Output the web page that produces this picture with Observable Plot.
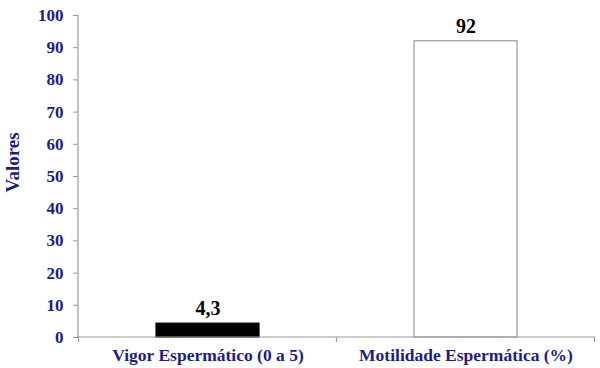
<!DOCTYPE html>
<html><head><meta charset="utf-8">
<script src="https://cdn.jsdelivr.net/npm/d3@7"></script>
<script src="https://cdn.jsdelivr.net/npm/@observablehq/plot@0.6"></script>
<style>body{margin:0;background:#fff}</style>
</head><body><div id="chart"></div>
<script>
const categories = ["Vigor Espermático (0 a 5)", "Motilidade Espermática (%)"];
const values = [4.3, 92];
const valueLabels = ["4,3", "92"];
const yTicks = [0, 10, 20, 30, 40, 50, 60, 70, 80, 90, 100];

const data = categories.map((c, i) => ({cat: c, v: values[i], label: valueLabels[i]}));
const blue = "#1c1c8e";
const gray = "#9a9a9a";

const axes = (index, scales, values, dims) => {
  const g = d3.create("svg:g").attr("stroke", gray).attr("stroke-width", 1.2).attr("fill", "none");
  const x = scales.x, y = scales.y;
  const y0 = y(0), y1 = y(100);
  const left = dims.marginLeft, right = dims.width - dims.marginRight;
  g.append("line").attr("x1", left).attr("x2", left).attr("y1", y0).attr("y2", y1);
  g.append("line").attr("x1", left).attr("x2", right).attr("y1", y0).attr("y2", y0);
  const gap = (x.step() - x.bandwidth()) / 2;
  const bounds = [x(categories[0]) - gap, ...categories.map(c => x(c) + x.bandwidth() + gap)];
  bounds.forEach(b => g.append("line").attr("x1", b).attr("x2", b).attr("y1", y0).attr("y2", y0 + 5));
  return g.node();
};

const chart = Plot.plot({
  width: 600,
  height: 368,
  marginLeft: 78,
  marginRight: 5,
  marginTop: 15,
  marginBottom: 31,
  style: {fontFamily: "Liberation Serif", background: "#fff"},
  x: {domain: categories, paddingInner: 0.6, paddingOuter: 0.3, axis: null},
  y: {domain: [0, 100], axis: null},
  marks: [
    Plot.barY(data, {x: "cat", y: "v", fill: d => d.cat === categories[0] ? "black" : "white",
      stroke: d => d.cat === categories[0] ? "black" : gray, strokeWidth: 1.2}),
    axes,
    Plot.axisY(yTicks, {tickSize: 5, tickPadding: 10, stroke: gray, fill: blue, fontSize: 17, fontWeight: "bold",
      tickFormat: d => String(d), label: null}),
    Plot.axisX({tickSize: 0, tickPadding: 11, fill: blue, fontSize: 17.5, fontWeight: "bold", label: null}),
    Plot.text(data, {x: "cat", y: "v", text: "label", dy: -15, fontSize: 20, fontWeight: "bold", fill: "black"}),
    Plot.text(["Valores"], {frameAnchor: "left", dx: -66, dy: 16, rotate: -90, fontSize: 19, fontWeight: "bold", fill: blue})
  ]
});
document.getElementById("chart").appendChild(chart);
</script>
</body></html>
